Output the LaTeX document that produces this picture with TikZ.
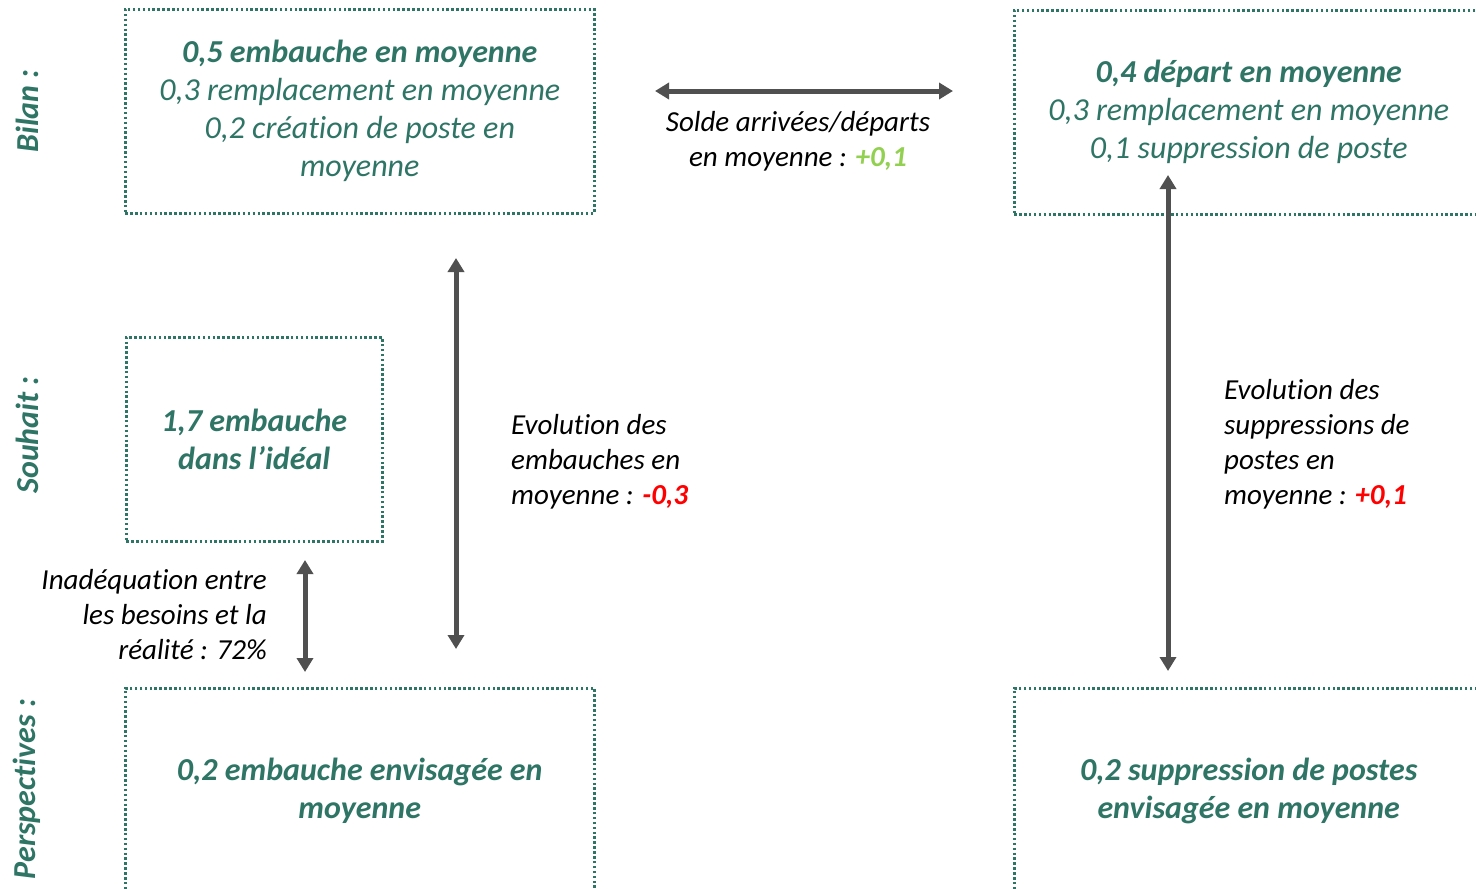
\documentclass[tikz,border=0pt]{standalone}
\usepackage{fontspec}
\setmainfont{Carlito}[Ligatures=NoCommon]
\usetikzlibrary{arrows.meta}
\definecolor{tealc}{RGB}{46,117,102}
\definecolor{arrgray}{RGB}{80,80,80}
\definecolor{lgreen}{RGB}{146,208,80}
\definecolor{redc}{RGB}{255,0,0}
\begin{document}
\begin{tikzpicture}[x=1pt,y=-1pt,
  box/.style={draw=tealc, line width=2.5pt, dash pattern=on 2.5pt off 2.4pt, text=tealc, align=center, inner sep=0pt, anchor=north west, font=\itshape\fontsize{32}{38}\selectfont},
  side/.style={text=tealc, rotate=90, inner sep=0pt, font=\bfseries\itshape\fontsize{32}{38}\selectfont},
  lbl/.style={text=black, inner sep=0pt, font=\itshape\fontsize{29}{35}\selectfont},
  arr/.style={draw=arrgray, line width=5pt, {Triangle[width=16pt,length=14pt]}-{Triangle[width=16pt,length=14pt]}}
]
\useasboundingbox (0,0) rectangle (1476,889);
\clip (0,0) rectangle (1476,889);
\fill[white] (0,0) rectangle (1476,889);

% side labels
\node[side] (sBilan) at (27,111) {Bilan :};
\node[side] (sSouhait) at (27,435) {Souhait :};
\node[side] (sPersp) at (27,789) {Perspectives :};

% boxes
\node[box, minimum width=469pt, minimum height=204pt] (A) at (124,8)
  {\textbf{0,5 embauche en moyenne}\\0,3 remplacement en moyenne\\0,2 création de poste en\\moyenne};
\node[box, minimum width=469pt, minimum height=204pt] (B) at (1013,9)
  {\textbf{0,4 départ en moyenne}\\0,3 remplacement en moyenne\\0,1 suppression de poste};
\node[box, minimum width=256pt, minimum height=204pt] (C) at (125,336)
  {\textbf{1,7 embauche}\\\textbf{dans l’idéal}};
\node[box, minimum width=469pt, minimum height=206pt] (D) at (124,687)
  {\textbf{0,2 embauche envisagée en}\\\textbf{moyenne}};
\node[box, minimum width=469pt, minimum height=206pt] (E) at (1013,687)
  {\textbf{0,2 suppression de postes}\\\textbf{envisagée en moyenne}};

% labels
\node[lbl, align=center] (L1) at (798,141)
  {Solde arrivées/départs\\en moyenne : \textbf{\textcolor{lgreen}{+0,1}}};
\node[lbl, align=left, anchor=west] (L2) at (511,462)
  {Evolution des\\embauches en\\moyenne : \textbf{\textcolor{redc}{-0,3}}};
\node[lbl, align=right, anchor=east] (L3) at (267,615)
  {Inadéquation entre\\les besoins et la\\réalité : 72\%};
\node[lbl, align=left, anchor=west] (L4) at (1224,444)
  {Evolution des\\suppressions de\\postes en\\moyenne : \textbf{\textcolor{redc}{+0,1}}};

% arrow end points
\coordinate (h1) at (655,91);
\coordinate (h2) at (953,91);
\coordinate (v1) at (456,258);
\coordinate (v2) at (456,649);
\coordinate (s1) at (305,560);
\coordinate (s2) at (305,672);
\coordinate (r1) at (1168,175);
\coordinate (r2) at (1168,671);

\draw[arr] (h1) -- (h2);
\draw[arr] (v1) -- (v2);
\draw[arr] (s1) -- (s2);
\draw[arr] (r1) -- (r2);
\end{tikzpicture}
\end{document}
